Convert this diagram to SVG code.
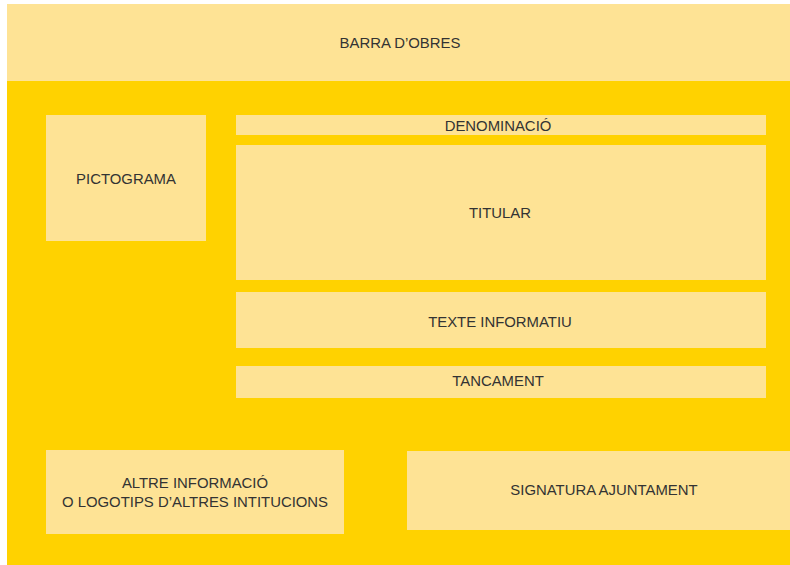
<svg xmlns="http://www.w3.org/2000/svg" width="790" height="565" viewBox="0 0 790 565">
<style>
.bg{fill:#FFD200}
.box{fill:#FEE395}
text{font-family:"Liberation Sans","Arial",sans-serif;font-size:14.9px;fill:#333;text-anchor:middle;dominant-baseline:central}
</style>
<rect x="0" y="0" width="790" height="565" fill="#fff"/>
<rect class="bg" x="7" y="81" width="783" height="484"/>
<g id="barra"><rect class="box" x="7" y="4" width="783" height="77"/><text x="400" y="43">BARRA D’OBRES</text></g>
<g id="pictograma"><rect class="box" x="46" y="115" width="160" height="126"/><text x="126" y="179">PICTOGRAMA</text></g>
<g id="denominacio"><rect class="box" x="236" y="115" width="530" height="20"/><text x="498" y="126">DENOMINACIÓ</text></g>
<g id="titular"><rect class="box" x="236" y="145" width="530" height="135"/><text x="500" y="213">TITULAR</text></g>
<g id="texte"><rect class="box" x="236" y="292" width="530" height="56"/><text x="500" y="322">TEXTE INFORMATIU</text></g>
<g id="tancament"><rect class="box" x="236" y="366" width="530" height="32"/><text x="498" y="381">TANCAMENT</text></g>
<g id="altre"><rect class="box" x="46" y="450" width="298" height="84"/><text x="195" y="483">ALTRE INFORMACIÓ</text><text x="195" y="502">O LOGOTIPS D’ALTRES INTITUCIONS</text></g>
<g id="signatura"><rect class="box" x="407" y="451" width="383" height="79"/><text x="604" y="490">SIGNATURA AJUNTAMENT</text></g>
<g id="connectors"></g>
</svg>
